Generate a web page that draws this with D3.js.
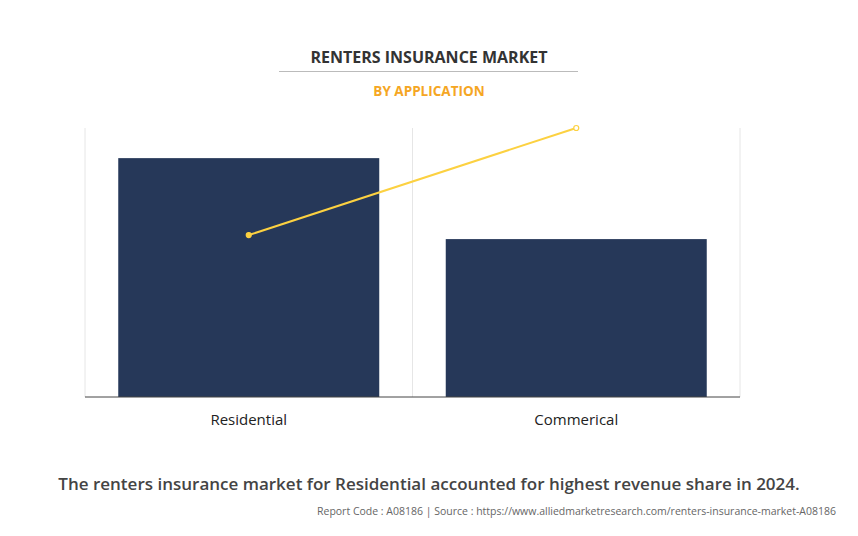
<!DOCTYPE html>
<html><head><meta charset="utf-8">
<script src="https://cdn.jsdelivr.net/npm/d3@7"></script>
<style>body{margin:0;background:#fff;font-family:"Open Sans",sans-serif}</style>
</head><body><svg id="c" width="858" height="536"></svg>
<script>
const categories = ["Residential", "Commerical"];
const barValues = [88.8, 58.7];
const lineValues = [60.2, 100];

const svg = d3.select("#c");
svg.append("rect").attr("width",858).attr("height",536).attr("fill","#fff");
const L=85,R=740,T=128,B=397;
const x = d3.scaleBand().domain(categories).range([L,R]).paddingInner(0).paddingOuter(0);
const y = d3.scaleLinear().domain([0,100]).range([B,T]);

// vertical grid lines
[L, x(categories[1]), R].forEach(v=>svg.append("line").attr("x1",v).attr("x2",v).attr("y1",T).attr("y2",B).attr("stroke","#e6e6e6"));

const bw = 261;
svg.selectAll(".bar").data(categories).enter().append("rect")
 .attr("x",d=>x(d)+x.bandwidth()/2-bw/2).attr("width",bw)
 .attr("y",(d,i)=>y(barValues[i])).attr("height",(d,i)=>B-y(barValues[i]))
 .attr("fill","#263859");

svg.append("line").attr("x1",L).attr("x2",R).attr("y1",B).attr("y2",B).attr("stroke","#444");

const pts = categories.map((c,i)=>[x(c)+x.bandwidth()/2, y(lineValues[i])]);
svg.append("path").attr("d",d3.line()(pts)).attr("fill","none").attr("stroke","#fcd141").attr("stroke-width",2);
svg.selectAll(".pt").data(pts).enter().append("circle").attr("cx",d=>d[0]).attr("cy",d=>d[1]).attr("r",2.5)
 .attr("fill",(d,i)=>i==0?"#fcd141":"#fff").attr("stroke","#fcd141").attr("stroke-width",1.2);

svg.selectAll(".cl").data(categories).enter().append("text")
 .attr("x",d=>x(d)+x.bandwidth()/2).attr("y",425).attr("text-anchor","middle")
 .attr("font-size",15).attr("fill","#222").text(d=>d);

svg.append("text").attr("x",429).attr("y",63).attr("text-anchor","middle").attr("font-size",16).attr("font-weight","bold").attr("fill","#333").text("RENTERS INSURANCE MARKET");
svg.append("line").attr("x1",279).attr("x2",578).attr("y1",71.5).attr("y2",71.5).attr("stroke","#bbb");
svg.append("text").attr("x",429).attr("y",96).attr("text-anchor","middle").attr("font-size",13.5).attr("font-weight","bold").attr("fill","#f5a623").text("BY APPLICATION");
svg.append("text").attr("x",429).attr("y",490).attr("text-anchor","middle").attr("font-size",17).attr("font-weight","600").attr("fill","#444").text("The renters insurance market for Residential accounted for highest revenue share in 2024.");
svg.append("text").attr("x",836).attr("y",515).attr("text-anchor","end").attr("font-size",10.5).attr("fill","#666").text("Report Code : A08186  |  Source : https://www.alliedmarketresearch.com/renters-insurance-market-A08186");
</script></body></html>
